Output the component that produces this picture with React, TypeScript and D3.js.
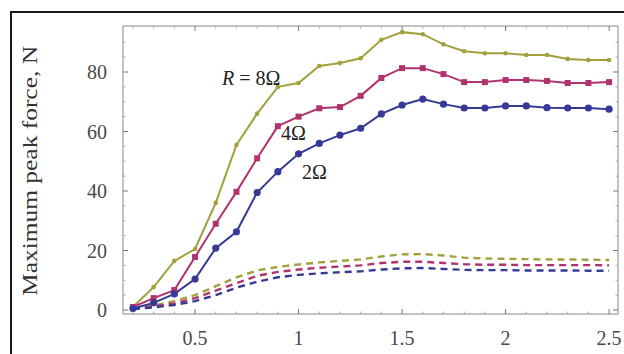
import React from "react";
import * as d3 from "d3";

const xs = [0.2,0.3,0.4,0.5,0.6,0.7,0.8,0.9,1.0,1.1,1.2,1.3,1.4,1.5,1.6,1.7,1.8,1.9,2.0,2.1,2.2,2.3,2.4,2.5];
const r8 = [1,7.7,16.5,20.5,36,55.5,66,75,76.3,82,83,84.6,90.8,93.4,92.7,89.3,87,86.3,86.3,85.7,85.7,84.4,84,84];
const r4 = [1,4,6.7,17.8,29,39.7,51,61.8,65,67.8,68.2,72,78,81.3,81.3,79.3,76.6,76.6,77.3,77.3,77,76.3,76.3,76.6];
const r2 = [0.5,2.4,5.4,10.4,20.8,26.3,39.5,46.5,52.5,56,58.8,61.1,65.9,68.9,70.9,69.2,67.9,67.9,68.6,68.6,68,67.9,67.9,67.5];
const d8 = [0.5,1.5,3,5,8,11,13.3,14.5,15.3,16,16.5,17,18,18.7,18.8,18.3,17.6,17.3,17.2,17.1,17,17,16.9,16.8];
const d4 = [0.4,1.2,2.2,4,6.5,9,11.5,12.8,13.6,14.2,14.6,15,15.8,16.2,16.2,15.8,15.4,15.2,15.2,15.1,15.1,15.1,15.1,15];
const d2 = [0.3,0.9,1.7,3,5,7.5,9.5,11,11.8,12.3,12.7,13,13.6,14,14.1,13.8,13.5,13.4,13.4,13.3,13.3,13.3,13.2,13.2];
const xTicks = [0.5,1,1.5,2,2.5];
const xTickLabels = ["0.5","1","1.5","2","2.5"];
const yTicks = [0,20,40,60,80];

const C8 = "#a2a03c";
const C4 = "#b0336e";
const C2 = "#363a96";

export default function App() {
  const W = 624, H = 354;
  const L = 123, R = 618, T = 26, B = 314;
  const x = d3.scaleLinear().domain([0.152, 2.543]).range([L, R]);
  const y = d3.scaleLinear().domain([0, 80]).range([310, 72]);
  const line = (vals: number[]) =>
    d3.line<number>().x((_, i) => x(xs[i])).y((v) => y(v))(vals) || "";
  const minorX = d3.range(0.2, 2.55, 0.1).filter((v) => Math.abs(v * 2 - Math.round(v * 2)) > 0.01);
  const minorY = d3.range(0, 95, 5).filter((v) => v % 20 !== 0);
  const serif = "'Liberation Serif', 'DejaVu Serif', serif";
  return (
    <svg width={W} height={H} style={{ position: "absolute", left: 0, top: 0 }}>
      <rect x={0} y={0} width={W} height={H} fill="#fff" />
      <rect x={11} y={12} width={620} height={350} fill="none" stroke="#000" strokeWidth={1.8} />
      <rect x={L} y={T} width={R - L} height={B - T} fill="none" stroke="#888" strokeWidth={1} />
      {xTicks.map((t) => (
        <g key={"xt" + t}>
          <line x1={x(t)} x2={x(t)} y1={B} y2={B - 5} stroke="#777" />
          <line x1={x(t)} x2={x(t)} y1={T} y2={T + 5} stroke="#777" />
        </g>
      ))}
      {minorX.map((t) => (
        <g key={"xm" + t}>
          <line x1={x(t)} x2={x(t)} y1={B} y2={B - 2.5} stroke="#aaa" />
          <line x1={x(t)} x2={x(t)} y1={T} y2={T + 2.5} stroke="#aaa" />
        </g>
      ))}
      {yTicks.map((t) => (
        <g key={"yt" + t}>
          <line x1={L} x2={L + 5} y1={y(t)} y2={y(t)} stroke="#777" />
          <line x1={R} x2={R - 5} y1={y(t)} y2={y(t)} stroke="#777" />
        </g>
      ))}
      {minorY.map((t) => (
        <g key={"ym" + t}>
          <line x1={L} x2={L + 2.5} y1={y(t)} y2={y(t)} stroke="#aaa" />
          <line x1={R} x2={R - 2.5} y1={y(t)} y2={y(t)} stroke="#aaa" />
        </g>
      ))}
      {xTicks.map((t, i) => (
        <text key={"xl" + t} x={x(t)} y={345} textAnchor="middle" fontFamily={serif} fontSize={20} fill="#4a4a4a">
          {xTickLabels[i]}
        </text>
      ))}
      {yTicks.map((t) => (
        <text key={"yl" + t} x={107} y={y(t) + 7} textAnchor="end" fontFamily={serif} fontSize={20} fill="#4a4a4a">
          {t}
        </text>
      ))}
      <text transform="translate(37,171) rotate(-90)" textAnchor="middle" fontFamily={serif} fontSize={21}
        textLength={250} lengthAdjust="spacingAndGlyphs" fill="#333">
        Maximum peak force, N
      </text>
      {[
        [d8, C8],
        [d4, C4],
        [d2, C2],
      ].map(([vals, c], i) => (
        <path key={"d" + i} d={line(vals as number[])} fill="none" stroke={c as string} strokeWidth={2.4} strokeDasharray="7,5" />
      ))}
      <path d={line(r8)} fill="none" stroke={C8} strokeWidth={2} />
      <path d={line(r4)} fill="none" stroke={C4} strokeWidth={2} />
      <path d={line(r2)} fill="none" stroke={C2} strokeWidth={2} />
      {r8.map((v, i) => (
        <circle key={"p8" + i} cx={x(xs[i])} cy={y(v)} r={2.3} fill={C8} />
      ))}
      {r4.map((v, i) => (
        <rect key={"p4" + i} x={x(xs[i]) - 3} y={y(v) - 3} width={6} height={6} fill={C4} />
      ))}
      {r2.map((v, i) => (
        <circle key={"p2" + i} cx={x(xs[i])} cy={y(v)} r={3.6} fill={C2} />
      ))}
      <text x={222} y={85} fontFamily={serif} fontSize={20} fill="#222">
        <tspan fontStyle="italic">R</tspan>
        <tspan> = 8Ω</tspan>
      </text>
      <text x={281} y={140} fontFamily={serif} fontSize={20} fill="#222">4Ω</text>
      <text x={302} y={179} fontFamily={serif} fontSize={20} fill="#222">2Ω</text>
    </svg>
  );
}
